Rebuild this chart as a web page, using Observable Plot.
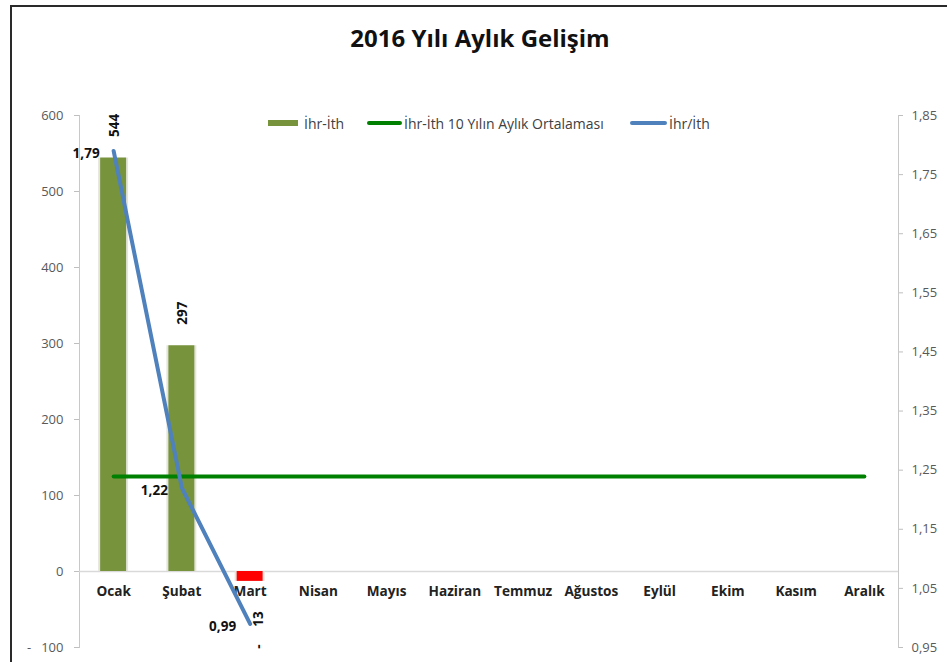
<!DOCTYPE html>
<html>
<head>
<meta charset="utf-8">
<script src="https://cdn.jsdelivr.net/npm/d3@7"></script>
<script src="https://cdn.jsdelivr.net/npm/@observablehq/plot@0.6"></script>
<style>
  html, body { margin: 0; padding: 0; background: #fff; overflow: hidden; }
  #wrap { position: relative; width: 947px; height: 662px; overflow: hidden; font-family: "Open Sans", Lato, sans-serif; }
  #frame { position: absolute; left: 10px; top: 5px; width: 960px; height: 700px; border: 2.5px solid #2a2a2a; box-sizing: border-box; }
  #title { position: absolute; left: 0; width: 960px; top: 21px; text-align: center; font-weight: bold; font-size: 24px; color: #111; font-family: "Open Sans", sans-serif; }
  #legend { position: absolute; top: 114px; left: 0; height: 18px; font-size: 14px; color: #404040; }
  .li { position: absolute; top: 0; white-space: nowrap; display: flex; align-items: center; height: 18px; }
  .sw { display: inline-block; margin-right: 1px; }
  #chart { position: absolute; left: 0; top: 70px; }
</style>
</head>
<body>
<div id="wrap">
  <div id="frame"></div>
  <div id="title">2016 Yılı Aylık Gelişim</div>
  <div id="chart"></div>
  <div id="legend"></div>
</div>
<script>
const months = ["Ocak", "Şubat", "Mart", "Nisan", "Mayıs", "Haziran", "Temmuz", "Ağustos", "Eylül", "Ekim", "Kasım", "Aralık"];
const netMonths = ["Ocak", "Şubat", "Mart"];
const netValues = [544, 297, -13];
const netLabels = ["544", "297", "-\u00a0\u00a0\u00a0\u00a0\u00a013"];
const ratioValues = [1.79, 1.22, 0.99];
const ratioLabels = ["1,79", "1,22", "0,99"];
const avgValues = [125, 125, 125, 125, 125, 125, 125, 125, 125, 125, 125, 125];
const leftTicks = [-100, 0, 100, 200, 300, 400, 500, 600];
const rightTicks = [0.95, 1.05, 1.15, 1.25, 1.35, 1.45, 1.55, 1.65, 1.75, 1.85];
const seriesNames = ["İhr-İth", "İhr-İth 10 Yılın Aylık Ortalaması", "İhr/İth"];

const leftMin = -100, leftMax = 600, rightMin = 0.95, rightMax = 1.85;
const toLeft = r => leftMin + (r - rightMin) / (rightMax - rightMin) * (leftMax - leftMin);
const toRight = v => rightMin + (v - leftMin) / (leftMax - leftMin) * (rightMax - rightMin);

const bars = netMonths.map((m, i) => ({month: m, value: netValues[i], label: netLabels[i]}));
const ratio = netMonths.map((m, i) => ({month: m, value: toLeft(ratioValues[i]), label: ratioLabels[i]}));
const avg = months.map((m, i) => ({month: m, value: avgValues[i]}));

const olive = "#77933C", green = "#008000", blue = "#4F81BD", red = "#FF0000";

const chart = Plot.plot({
  width: 947,
  height: 592,
  marginLeft: 79,
  marginRight: 49,
  marginTop: 45,
  marginBottom: 15,
  style: {fontFamily: "'Open Sans', Lato, sans-serif", fontSize: "13px", color: "#595959", background: "transparent"},
  x: {type: "band", domain: months, paddingInner: 0.62, paddingOuter: 0.31, round: false, axis: null},
  y: {domain: [leftMin, leftMax], axis: null},
  marks: [
    Plot.frame({anchor: "left", stroke: "#c8c8c8"}),
    Plot.frame({anchor: "right", stroke: "#c8c8c8"}),
    Plot.axisY(leftTicks, {anchor: "left", label: null, tickSize: 5, tickPadding: 11, stroke: "#bfbfbf", fill: "#595959",
      tickFormat: d => d < 0 ? "-\u00a0\u00a0\u00a0" + (-d) : String(d)}),
    Plot.axisY(rightTicks.map(toLeft), {anchor: "right", label: null, tickSize: 4, tickPadding: 9, stroke: "#bfbfbf", fill: "#595959",
      tickFormat: d => toRight(d).toFixed(2).replace(".", ",")}),
    Plot.ruleY([0], {stroke: "#d9d9d9", strokeWidth: 1.5}),
    Plot.barY(bars, {x: "month", y: "value", fill: "#e4e4dc", insetLeft: -2, insetRight: -2}),
    Plot.barY(bars, {x: "month", y: "value", fill: d => d.value < 0 ? red : olive}),
    Plot.text(months, {x: d => d, y: 0, dy: 20, text: d => d, fontWeight: "bold", fontSize: 13.6, fill: "#222"}),
    Plot.lineY(avg, {x: "month", y: "value", stroke: green, strokeWidth: 4, strokeLinecap: "round"}),
    Plot.lineY(ratio, {x: "month", y: "value", stroke: blue, strokeWidth: 4, strokeLinecap: "round", strokeLinejoin: "round"}),
    Plot.text(bars.filter(d => d.value >= 0), {x: "month", y: "value", text: "label", rotate: -90, textAnchor: "start", dy: -21, dx: 1, fontWeight: "bold", fontSize: 13.5, fill: "#111"}),
    Plot.text(bars.filter(d => d.value < 0), {x: "month", y: "value", text: "label", rotate: -90, textAnchor: "end", dy: 30, dx: 9, fontWeight: "bold", fontSize: 13.5, fill: "#111"}),
    Plot.text(ratio, {x: "month", y: "value", text: "label", textAnchor: "end", dx: -14, dy: 3, fontWeight: "bold", fontSize: 13.5, fill: "#111"})
  ]
});
document.getElementById("chart").appendChild(chart);

const legend = document.getElementById("legend");
const items = [
  {name: seriesNames[0], left: 268, sw: `<span class="sw" style="width:30px;height:6px;background:${olive}"></span>`},
  {name: seriesNames[1], left: 367, sw: `<span class="sw" style="width:35px;height:4px;border-radius:2px;background:${green}"></span>`},
  {name: seriesNames[2], left: 630, sw: `<span class="sw" style="width:37px;height:4px;border-radius:2px;background:${blue}"></span>`}
];
items.forEach(it => {
  const d = document.createElement("div");
  d.className = "li";
  d.style.left = it.left + "px";
  d.innerHTML = it.sw + `<span style="margin-left:${it.left === 268 ? 5 : 1}px">${it.name}</span>`;
  legend.appendChild(d);
});
</script>
</body>
</html>
